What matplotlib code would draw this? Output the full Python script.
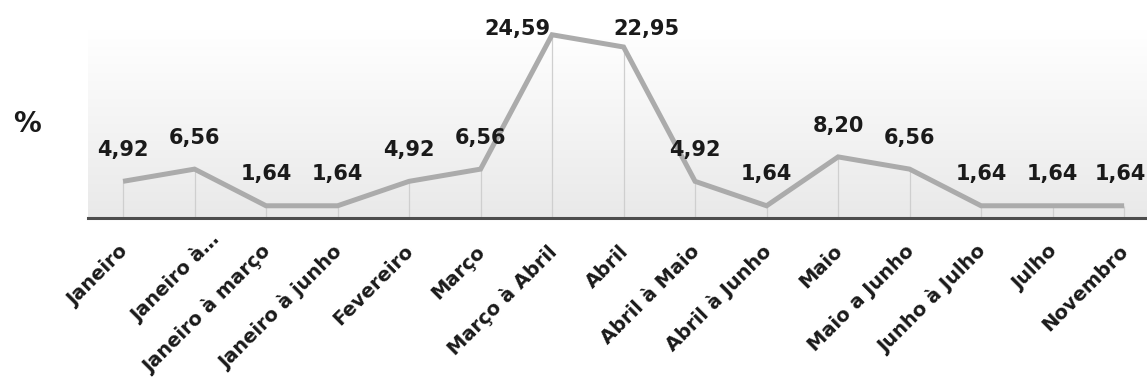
import numpy as np
import matplotlib.pyplot as plt
from matplotlib.colors import LinearSegmentedColormap
from matplotlib.transforms import ScaledTranslation

periodos = ["Janeiro", "Janeiro à…", "Janeiro à março", "Janeiro à junho",
            "Fevereiro", "Março", "Março à Abril", "Abril", "Abril à Maio",
            "Abril à Junho", "Maio", "Maio a Junho", "Junho à Julho",
            "Julho", "Novembro"]
percentuais = [4.92, 6.56, 1.64, 1.64, 4.92, 6.56, 24.59, 22.95, 4.92,
               1.64, 8.20, 6.56, 1.64, 1.64, 1.64]

plt.rcParams['font.family'] = ['DejaVu Sans']

fig = plt.figure(figsize=(11.47, 3.83), dpi=100)
ax = fig.add_axes([88/1147, 165/383, 1 - 88/1147, 188/383])

x = np.arange(len(periodos))
ax.set_xlim(-0.49, 14.32)
ax.set_ylim(0, 25.23)

# fundo com degradê branco -> cinza claro
grad = np.linspace(1, 0, 256).reshape(-1, 1)
cmap = LinearSegmentedColormap.from_list("fundo", ["#ffffff", "#e9e9e9"])
ax.imshow(grad, extent=[-0.49, 14.32, 0, 25.23], aspect='auto',
          cmap=cmap, origin='lower', zorder=0)

ax.vlines(x, 0, percentuais, color="#cfcfcf", lw=0.9, zorder=1)
ax.plot(x, percentuais, color="#ababab", lw=3.6, solid_joinstyle='miter',
        solid_capstyle='butt', zorder=2)

# rótulos de valor
desloc_x = {6: -0.49, 7: 0.32, 14: -0.05}
for i, v in enumerate(percentuais):
    ty = min(v + 4.2, 25.4)
    ax.text(i + desloc_x.get(i, 0), ty, f"{v:.2f}".replace(".", ","),
            ha='center', va='center', fontsize=15, fontweight='bold',
            color="#1a1a1a", zorder=3, clip_on=False)

for s in ['top', 'right', 'left']:
    ax.spines[s].set_visible(False)
ax.spines['bottom'].set_color("#4d4d4d")
ax.spines['bottom'].set_linewidth(2.2)
ax.spines['bottom'].set_zorder(4)

ax.set_yticks([])
ax.set_xticks(x)
ax.set_xticklabels(periodos, rotation=45, ha='right', rotation_mode='anchor',
                   fontsize=14, fontweight='bold', color="#1a1a1a")
ax.tick_params(axis='x', length=0, pad=17)

# leve deslocamento dos rótulos; o truncado fica mais acima e à direita
for k, lbl in enumerate(ax.get_xticklabels()):
    dx, dy = (0.15, 0.12) if k == 1 else (-0.05, 0)
    lbl.set_transform(lbl.get_transform() + ScaledTranslation(dx, dy, fig.dpi_scale_trans))

fig.text(27/1147, 1 - 124/383, "%", fontsize=20, fontweight='bold',
         ha='center', va='center', color="#1a1a1a")

fig.savefig("out.png", dpi=100)
